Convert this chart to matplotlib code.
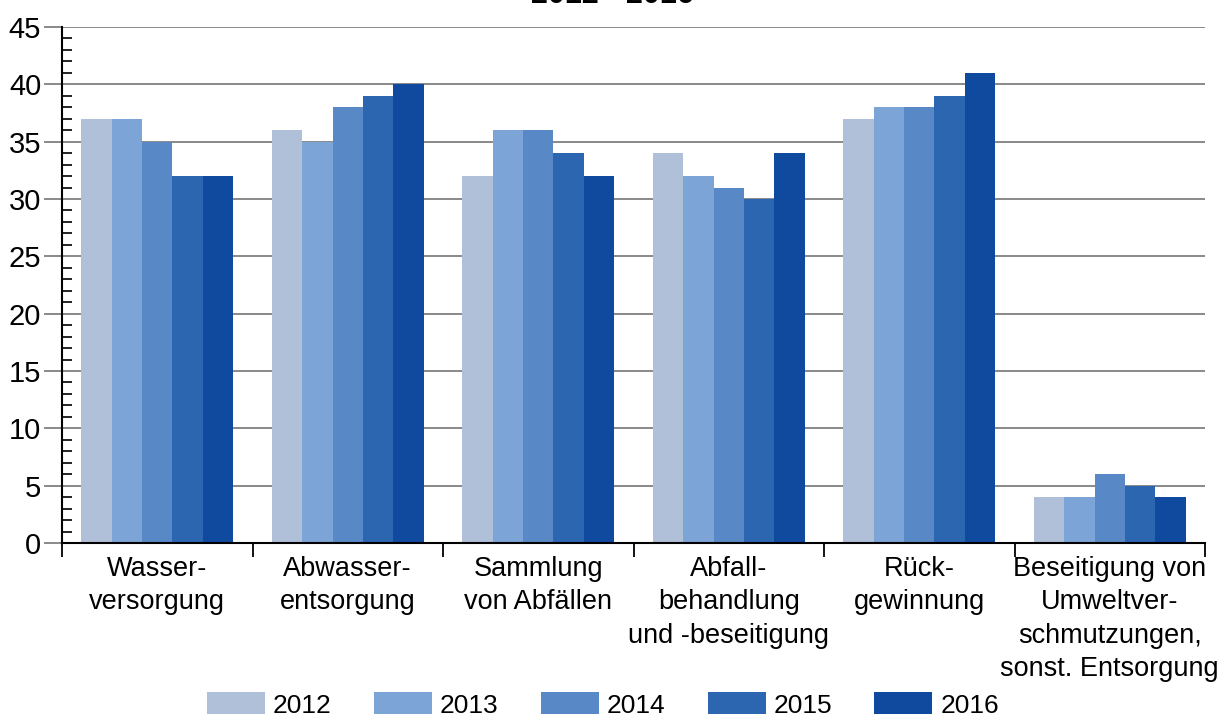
import matplotlib
matplotlib.use("Agg")
import matplotlib.pyplot as plt
import numpy as np
from matplotlib.ticker import MultipleLocator, FixedLocator

plt.rcParams['font.family'] = ['Liberation Sans', 'DejaVu Sans']

categories = ["Wasser-\nversorgung", "Abwasser-\nentsorgung", "Sammlung\nvon Abfällen",
              "Abfall-\nbehandlung\nund -beseitigung", "Rück-\ngewinnung",
              "Beseitigung von\nUmweltver-\nschmutzungen,\nsonst. Entsorgung"]
years = ["2012", "2013", "2014", "2015", "2016"]
values = {
    "2012": [37, 36, 32, 34, 37, 4],
    "2013": [37, 35, 36, 32, 38, 4],
    "2014": [35, 38, 36, 31, 38, 6],
    "2015": [32, 39, 34, 30, 39, 5],
    "2016": [32, 40, 32, 34, 41, 4],
}
colors = ["#B0C0D8", "#7CA4D6", "#5888C6", "#2C66B0", "#0F4A9E"]

fig = plt.figure(figsize=(12.19, 7.18), dpi=100)
ax = fig.add_axes([62/1219, 1-543/718, (1205-62)/1219, (543-27)/718])

x = np.arange(len(categories))
n = len(years)
group_w = 0.8
bw = group_w / n
for i, (yr, c) in enumerate(zip(years, colors)):
    ax.bar(x - group_w/2 + bw*(i+0.5), values[yr], width=bw, color=c, label=yr, zorder=3)

ax.set_xlim(-0.5, len(categories)-0.5)
ax.set_ylim(0, 45)
ax.yaxis.set_major_locator(MultipleLocator(5))
ax.yaxis.set_minor_locator(MultipleLocator(1))
ax.grid(axis='y', which='major', color='#808080', linewidth=1.3, zorder=0)
ax.tick_params(axis='y', which='major', direction='out', length=13, width=1.3, color='#808080',
               labelsize=21, pad=2)
ax.tick_params(axis='y', which='minor', direction='in', length=7, width=1.2, color='black')

ax.set_xticks(x)
ax.set_xticklabels(categories, fontsize=19.5, linespacing=1.38)
ax.xaxis.set_minor_locator(FixedLocator(np.arange(-0.5, len(categories), 1.0)))
ax.tick_params(axis='x', which='major', length=0, pad=9)
ax.tick_params(axis='x', which='minor', direction='out', length=10, width=1.3, color='black')

for s in ['top', 'right']:
    ax.spines[s].set_visible(False)
ax.spines['left'].set_linewidth(1.5)
ax.spines['bottom'].set_linewidth(1.5)
ax.spines['left'].set_zorder(4)
ax.spines['bottom'].set_zorder(4)

fig.text(0.502, 1-3/718, "2012 - 2016", ha='center', va='baseline', fontsize=22, fontweight='bold')

fig.legend(loc='center', bbox_to_anchor=(603/1219, 1-705/718), ncol=5, frameon=False,
           fontsize=19, handlelength=2.2, handleheight=0.9, handletextpad=0.3,
           columnspacing=1.6, borderaxespad=0, borderpad=0)

fig.savefig("out.png", dpi=100)
